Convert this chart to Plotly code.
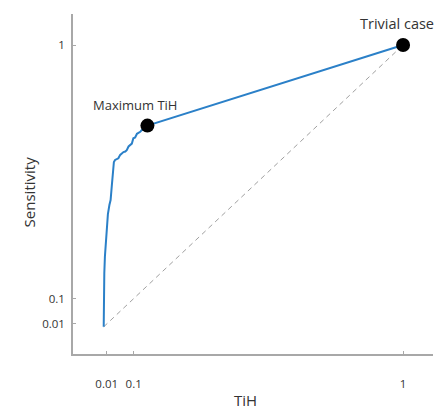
import plotly.graph_objects as go

# ROC-like curve data (TiH vs Sensitivity)
tih = [0.0, 0.0, 0.002, 0.004, 0.007, 0.010, 0.014, 0.019, 0.023, 0.027, 0.030,
       0.034, 0.038, 0.044, 0.049, 0.055, 0.060, 0.066, 0.072, 0.077, 0.083,
       0.088, 0.094, 0.099, 0.105, 0.111, 0.116, 0.122, 0.127, 0.134, 0.140, 0.146, 1.0]
sens = [0.0, 0.125, 0.19, 0.249, 0.30, 0.355, 0.40, 0.432, 0.45, 0.50, 0.533,
        0.585, 0.592, 0.594, 0.598, 0.610, 0.616, 0.620, 0.622, 0.627, 0.640,
        0.645, 0.650, 0.669, 0.672, 0.685, 0.687, 0.692, 0.698, 0.703, 0.710, 0.714, 1.0]

diag_x = [0.0, 1.0]
diag_y = [0.0, 1.0]

point_x = [0.146, 1.0]
point_y = [0.714, 1.0]
point_labels = ["Maximum TiH", "Trivial case"]
label_sizes = [13, 14.5]
label_xshift = [-12, -6]
label_yshift = [21, 22]

tick_vals = [0.01, 0.1, 1]
tick_text = ["0.01", "0.1", "1"]

fig = go.Figure()
fig.add_trace(go.Scatter(x=diag_x, y=diag_y, mode="lines",
                         line=dict(color="#a0a0a0", width=1, dash="5px,4px"),
                         hoverinfo="skip", showlegend=False))
fig.add_trace(go.Scatter(x=tih, y=sens, mode="lines",
                         line=dict(color="#2b80c8", width=2),
                         showlegend=False))
fig.add_trace(go.Scatter(x=point_x, y=point_y, mode="markers",
                         marker=dict(color="black", size=14),
                         showlegend=False, cliponaxis=False))

for px, py, lab, fs, xs, ys in zip(point_x, point_y, point_labels,
                                   label_sizes, label_xshift, label_yshift):
    fig.add_annotation(x=px, y=py, text=lab, showarrow=False,
                       xshift=xs, yshift=ys,
                       font=dict(family="Open Sans", size=fs, color="#333333"))

fig.add_annotation(x=0.479, y=-0.135, xref="paper", yref="paper", yanchor="middle",
                   text="TiH", showarrow=False,
                   font=dict(family="Open Sans", size=15, color="#333333"))
fig.add_annotation(x=-0.153, y=0.478, xref="paper", yref="paper", textangle=-90,
                   text="Sensitivity", showarrow=False,
                   font=dict(family="Open Sans", size=15, color="#333333"))

axis_common = dict(showgrid=False, zeroline=False, showline=True,
                   linecolor="#a8a8a8", linewidth=1.5,
                   ticks="inside", ticklen=3, tickcolor="#a8a8a8",
                   tickvals=tick_vals, ticktext=tick_text,
                   tickfont=dict(family="Open Sans", size=11.5, color="#333333"))

# page body has an 8px default margin, so the figure is sized/offset to compensate
fig.update_layout(
    width=436, height=401,
    margin=dict(l=65, r=11, t=6, b=55),
    plot_bgcolor="white", paper_bgcolor="white",
    xaxis=dict(range=[-0.1026, 1.100], ticklabelstandoff=18, **axis_common),
    yaxis=dict(range=[-0.0965, 1.110], ticklabelstandoff=4, **axis_common),
)

fig.write_html("out.html")
